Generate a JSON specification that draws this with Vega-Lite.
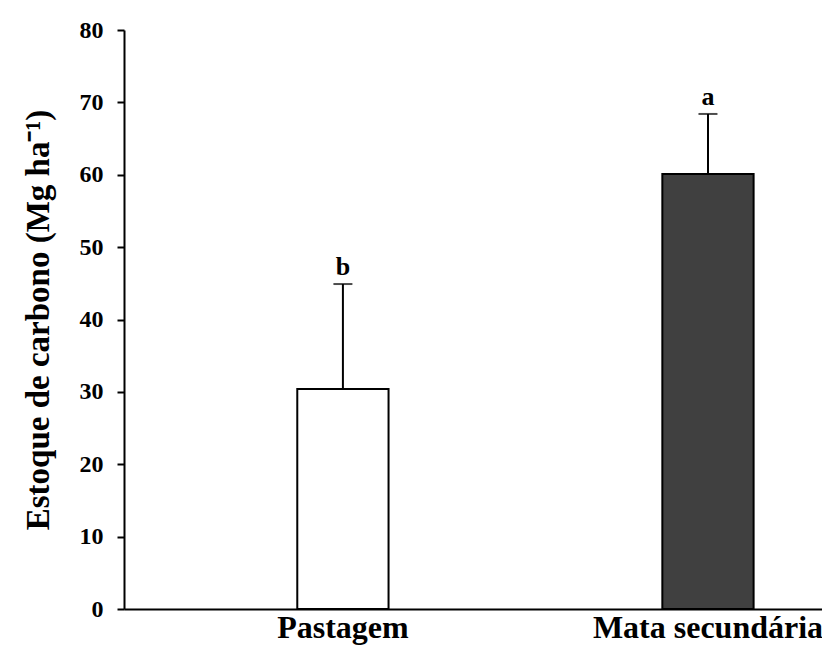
{
  "$schema": "https://vega.github.io/schema/vega-lite/v6.json",
  "width": 698,
  "height": 579,
  "autosize": {"type": "none"},
  "padding": {"left": 124, "top": 30, "right": 0, "bottom": 37},
  "background": "white",
  "config": {"view": {"stroke": null}, "font": "Liberation Serif"},
  "data": {
    "values": [
      {"uso": "Pastagem", "estoque": 30.4, "superior": 44.9, "letra": "b", "cor": "branco"},
      {"uso": "Mata secundária", "estoque": 60.1, "superior": 68.4, "letra": "a", "cor": "escuro"}
    ]
  },
  "encoding": {
    "x": {
      "field": "uso",
      "type": "nominal",
      "sort": ["Pastagem", "Mata secundária"],
      "scale": {"paddingInner": 0.75, "paddingOuter": 0.331, "align": 0.717},
      "axis": {
        "title": null,
        "labelAngle": 0,
        "labelFont": "Liberation Serif",
        "labelFontWeight": "bold",
        "labelFontSize": 32,
        "labelColor": "black",
        "labelPadding": 3,
        "labelLimit": 0,
        "ticks": false,
        "domainColor": "black",
        "domainWidth": 2,
        "labelOverlap": false,
        "labelBound": false
      }
    }
  },
  "layer": [
    {
      "mark": {"type": "bar", "stroke": "black", "strokeWidth": 2},
      "encoding": {
        "y": {
          "field": "estoque",
          "type": "quantitative",
          "scale": {"domain": [0, 80], "nice": false},
          "axis": {
            "title": "Estoque de carbono (Mg ha⁻¹)",
            "titleFont": "Liberation Serif",
            "titleFontWeight": "bold",
            "titleFontSize": 33,
            "titleColor": "black",
            "titlePadding": 24,
            "values": [0, 10, 20, 30, 40, 50, 60, 70, 80],
            "labelFont": "Liberation Serif",
            "labelFontWeight": "bold",
            "labelFontSize": 24,
            "labelColor": "black",
            "labelPadding": 14,
            "tickSize": 7,
            "tickWidth": 2,
            "tickColor": "black",
            "domainColor": "black",
            "domainWidth": 2,
            "grid": false
          }
        },
        "fill": {
          "field": "cor",
          "type": "nominal",
          "scale": {"domain": ["branco", "escuro"], "range": ["#ffffff", "#404040"]},
          "legend": null
        }
      }
    },
    {
      "mark": {"type": "rule", "color": "black", "strokeWidth": 2},
      "encoding": {
        "y": {"field": "estoque", "type": "quantitative"},
        "y2": {"field": "superior"}
      }
    },
    {
      "mark": {"type": "tick", "color": "black", "thickness": 2, "size": 19},
      "encoding": {
        "y": {"field": "superior", "type": "quantitative"}
      }
    },
    {
      "mark": {"type": "text", "font": "Liberation Serif", "fontWeight": "bold", "fontSize": 26, "color": "black", "baseline": "alphabetic", "dy": -9},
      "encoding": {
        "y": {"field": "superior", "type": "quantitative"},
        "text": {"field": "letra"}
      }
    }
  ]
}
